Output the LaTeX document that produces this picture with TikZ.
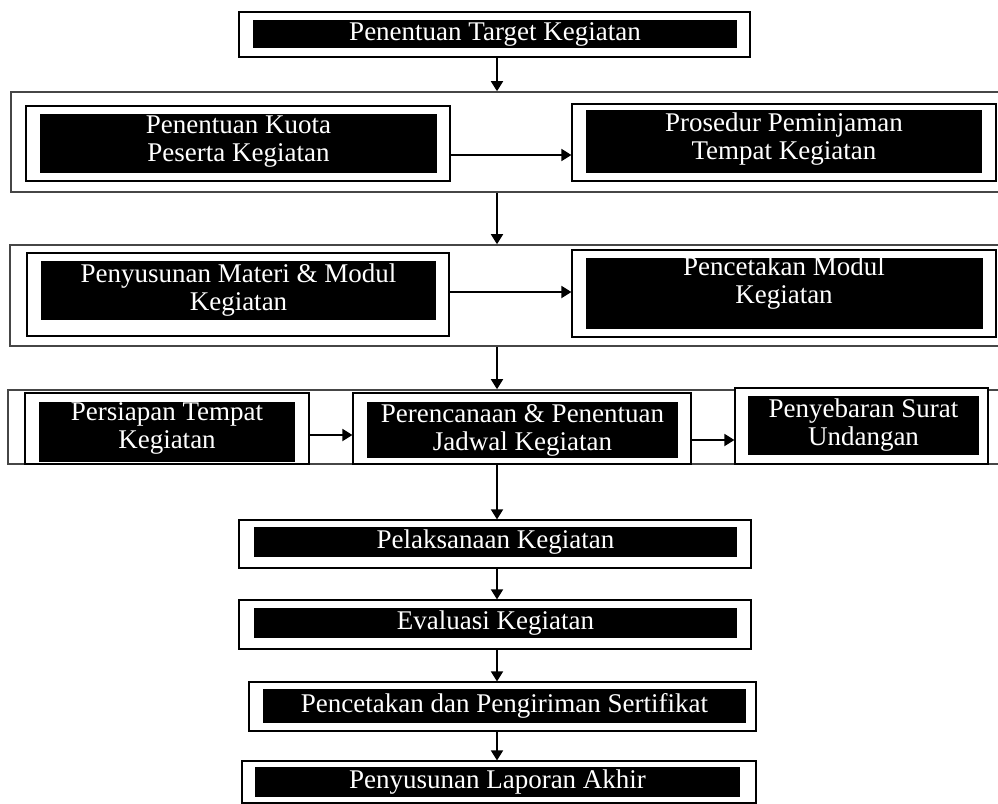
\documentclass[tikz,border=0pt]{standalone}
\usepackage{fontspec}
\setmainfont{Liberation Serif}
\usepackage{xcolor}
\usepackage{tikz}
\usetikzlibrary{arrows.meta,fit}
\definecolor{fkline}{RGB}{70,70,70}
\tikzset{
  band/.style={draw=fkline,line width=0.8pt,fill=white,inner sep=0pt},
  frame/.style={draw=black,line width=0.6pt,fill=white,inner sep=0pt},
  blk/.style={fill=black,inner sep=0pt},
  txt/.style={inner sep=0pt,text=white,align=center,font=\fontsize{13.5}{14}\selectfont},
  arr/.style={-{Triangle[length=5pt,width=6pt]},line width=0.9pt,draw=black},
}

\begin{document}
\begin{tikzpicture}[x=0.5pt,y=-0.5pt]
  \useasboundingbox (0,0) rectangle (998,804);
  \clip (0,0) rectangle (998,804);
  \coordinate (spine) at (497,0);

  \node[frame,fit={(239,12)(750,57)}] (target) {};
  \node[blk,fit={(253,20)(737,48)}] (targetB) {};
  \node[txt] (targetT) at (targetB.center) {Penentuan Target Kegiatan};

  \node[band,fit={(11,92)(1012,192)}] (row1) {};
  \node[frame,fit={(26,106)(450,181)}] (kuota) {};
  \node[blk,fit={(40,114)(437,173)}] (kuotaB) {};
  \node[txt] (kuotaT) at ([yshift=1pt]kuotaB.center) {Penentuan Kuota\\Peserta Kegiatan};
  \node[frame,fit={(572,104)(996,181)}] (pinjam) {};
  \node[blk,fit={(586,110)(982,173)}] (pinjamB) {};
  \node[txt] (pinjamT) at ([yshift=1pt]pinjamB.center) {Prosedur Peminjaman\\Tempat Kegiatan};
  \draw[arr] ([yshift=-5.75pt]kuota.east) -- ([yshift=-5.75pt]kuota.east -| pinjam.west);

  \node[band,fit={(10,245)(1012,346)}] (row2) {};
  \node[frame,fit={(27,253)(449,336)}] (materi) {};
  \node[blk,fit={(41,261)(436,320)}] (materiB) {};
  \node[txt] (materiT) at (materiB.center) {Penyusunan Materi \& Modul\\Kegiatan};
  \node[frame,fit={(572,250)(996,337)}] (cetak) {};
  \node[blk,fit={(586,258)(983,329)}] (cetakB) {};
  \node[txt] (cetakT) at (784,283) {Pencetakan Modul\\Kegiatan};
  \draw[arr] ([yshift=1.25pt]materi.east) -- ([yshift=1.25pt]materi.east -| cetak.west);

  \node[band,fit={(8,390)(1012,464)}] (row3) {};
  \node[frame,fit={(25,393)(309,464)}] (siap) {};
  \node[blk,fit={(39,402)(295,462)}] (siapB) {};
  \node[txt] (siapT) at ([yshift=2pt]siapB.center) {Persiapan Tempat\\Kegiatan};
  \node[frame,fit={(353,393)(691,464)}] (jadwal) {};
  \node[blk,fit={(367,402)(678,458)}] (jadwalB) {};
  \node[txt] (jadwalT) at (jadwalB.center) {Perencanaan \& Penentuan\\Jadwal Kegiatan};
  \node[frame,fit={(735,388)(988,464)}] (undang) {};
  \node[blk,fit={(748,396)(979,455)}] (undangB) {};
  \node[txt] (undangT) at (undangB.center) {Penyebaran Surat\\Undangan};
  \draw[arr] ([yshift=-3.25pt]siap.east) -- ([yshift=-3.25pt]siap.east -| jadwal.west);
  \draw[arr] ([yshift=-5.75pt]jadwal.east) -- ([yshift=-5.75pt]jadwal.east -| undang.west);

  \node[frame,fit={(239,520)(751,568)}] (laksana) {};
  \node[blk,fit={(254,527)(737,557)}] (laksanaB) {};
  \node[txt] (laksanaT) at (laksanaB.center) {Pelaksanaan Kegiatan};
  \node[frame,fit={(239,600)(751,649)}] (evaluasi) {};
  \node[blk,fit={(254,608)(737,638)}] (evaluasiB) {};
  \node[txt] (evaluasiT) at (evaluasiB.center) {Evaluasi Kegiatan};
  \node[frame,fit={(249,682)(756,731)}] (sertif) {};
  \node[blk,fit={(263,689)(746,723)}] (sertifB) {};
  \node[txt] (sertifT) at (sertifB.center) {Pencetakan dan Pengiriman Sertifikat};
  \node[frame,fit={(242,761)(756,803)}] (laporan) {};
  \node[blk,fit={(255,767)(740,797)}] (laporanB) {};
  \node[txt] (laporanT) at (laporanB.center) {Penyusunan Laporan Akhir};

  \draw[arr] (target.south -| spine) -- (row1.north -| spine);
  \draw[arr] (row1.south -| spine) -- (row2.north -| spine);
  \draw[arr] (row2.south -| spine) -- (row3.north -| spine);
  \draw[arr] (row3.south -| spine) -- (laksana.north -| spine);
  \draw[arr] (laksana.south -| spine) -- (evaluasi.north -| spine);
  \draw[arr] (evaluasi.south -| spine) -- (sertif.north -| spine);
  \draw[arr] (sertif.south -| spine) -- (laporan.north -| spine);
\end{tikzpicture}
\end{document}
